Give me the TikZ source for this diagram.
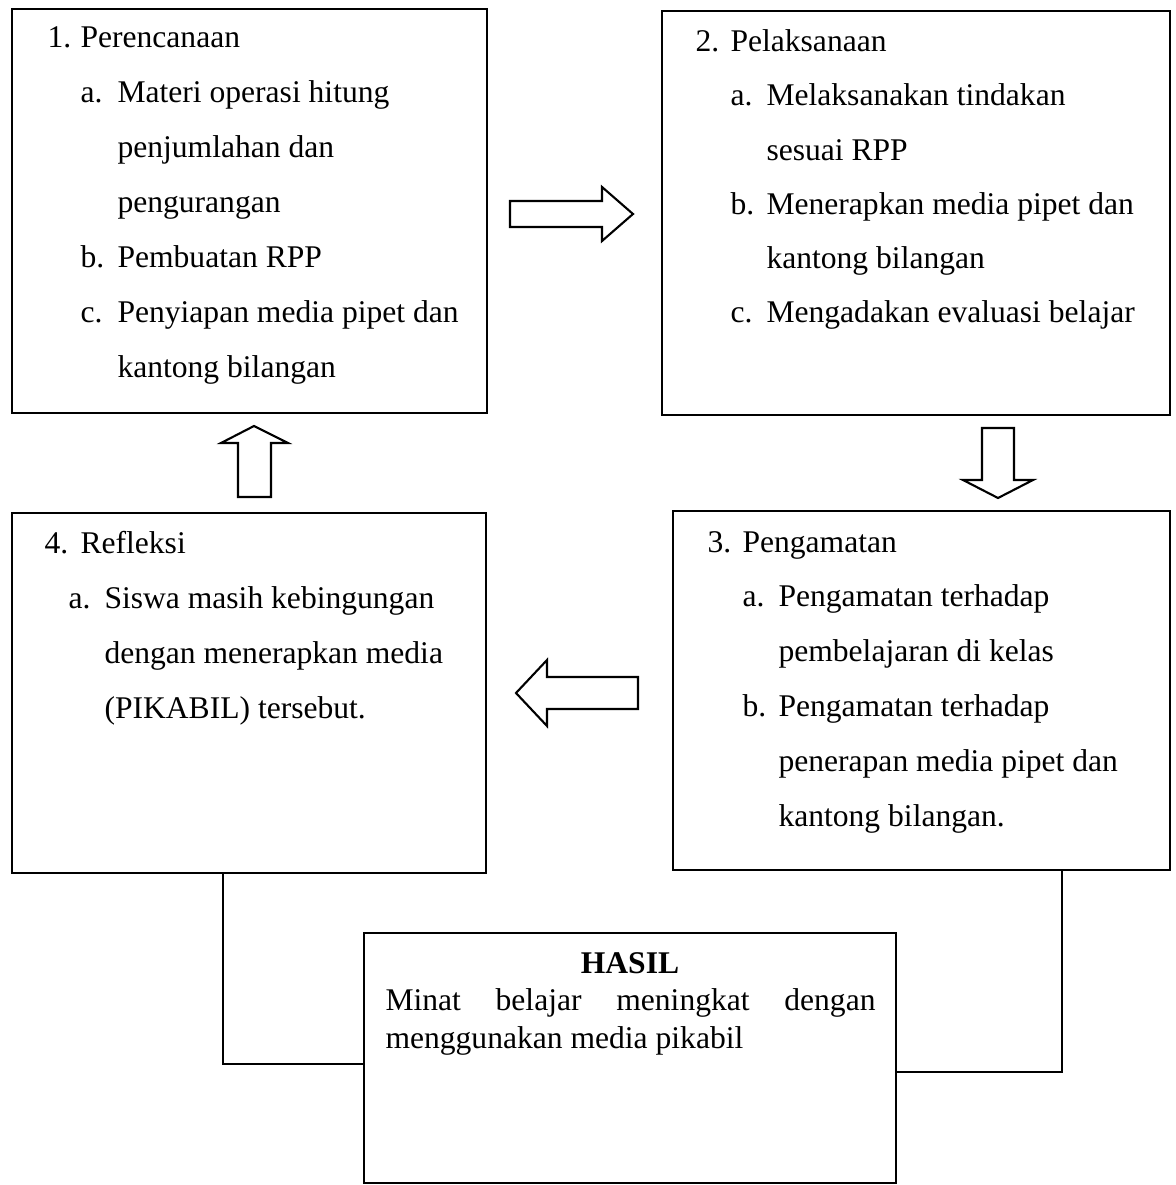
\documentclass[tikz,border=0pt]{standalone}
\usepackage{fontspec}
\setmainfont{Liberation Serif}
\usetikzlibrary{fit}
\tikzset{
  box/.style={draw, line width=0.9pt, inner sep=0pt},
  item/.style={anchor=base west, inner sep=0pt, font=\fontsize{12}{14}\selectfont},
  blockarrow/.style={draw, line width=0.8pt, line join=miter},
  link/.style={draw, line width=0.7pt}
}
\begin{document}
\begin{tikzpicture}[x=0.38pt, y=-0.38pt]
  \useasboundingbox (0,0) rectangle (1175,1185);
  % the five boxes
  \node[box, fit={(12,9) (487,413)}] (plan) {};
  \node[box, fit={(662,11) (1170,415)}] (act) {};
  \node[box, fit={(673,511) (1170,870)}] (obs) {};
  \node[box, fit={(12,513) (486,873)}] (refl) {};
  \node[box, fit={(364,933) (896,1183)}] (hasil) {};
  % 1. planning
  \foreach \x/\y/\txt [count=\i] in {47/48/1., 80/48/Perencanaan,
      80/103/a., 117/103/Materi operasi hitung, 117/158/penjumlahan dan,
      117/213/pengurangan, 80/268/b., 117/268/Pembuatan RPP,
      80/323/c., 117/323/Penyiapan media pipet dan, 117/378/kantong bilangan}
    \node[item] (plan-\i) at (\x,\y) {\txt};
  % 2. action
  \foreach \x/\y/\txt [count=\i] in {695/52/2., 730/52/Pelaksanaan,
      730/106/a., 766/106/Melaksanakan tindakan, 766/161/sesuai RPP,
      730/215/b., 766/215/Menerapkan media pipet dan, 766/269/kantong bilangan,
      730/323/c., 766/323/Mengadakan evaluasi belajar}
    \node[item] (act-\i) at (\x,\y) {\txt};
  % 3. observation
  \foreach \x/\y/\txt [count=\i] in {707/552/3., 742/552/Pengamatan,
      742/606/a., 778/606/Pengamatan terhadap, 778/661/pembelajaran di kelas,
      742/716/b., 778/716/Pengamatan terhadap, 778/771/penerapan media pipet dan,
      778/826/kantong bilangan.}
    \node[item] (obs-\i) at (\x,\y) {\txt};
  % 4. reflection
  \foreach \x/\y/\txt [count=\i] in {44/553/4., 80/553/Refleksi,
      68/608/a., 104/608/Siswa masih kebingungan, 104/663/dengan menerapkan media,
      104/718/{(PIKABIL) tersebut.}}
    \node[item] (refl-\i) at (\x,\y) {\txt};
  % result
  \node[item, anchor=base, font=\fontsize{12}{14}\selectfont\bfseries] (hasil-0) at (630,973) {HASIL};
  \node[item] (hasil-1) at (385,1010) {\makebox[186.2pt][s]{Minat belajar meningkat dengan}};
  \node[item] (hasil-2) at (385,1048) {menggunakan media pikabil};
  % block arrows between the stages
  \draw[blockarrow] (510,201) -- (602,201) -- (602,187) -- (633,214) -- (602,241) -- (602,227) -- (510,227) -- cycle;
  \draw[blockarrow] (982,428) -- (1014,428) -- (1014,480) -- (1033,480) -- (998,498) -- (963,480) -- (982,480) -- cycle;
  \draw[blockarrow] (638,677) -- (547,677) -- (547,660) -- (516,693) -- (547,726) -- (547,709) -- (638,709) -- cycle;
  \draw[blockarrow] (238,497) -- (238,443) -- (221,443) -- (254,426) -- (288,443) -- (271,443) -- (271,497) -- cycle;
  % lines down to the result
  \coordinate (lfoot) at (223,1064);
  \coordinate (rfoot) at (1062,1072);
  \draw[link] (refl.south -| lfoot) |- (hasil.west |- lfoot);
  \draw[link] (obs.south -| rfoot) |- (hasil.east |- rfoot);
\end{tikzpicture}
\end{document}
